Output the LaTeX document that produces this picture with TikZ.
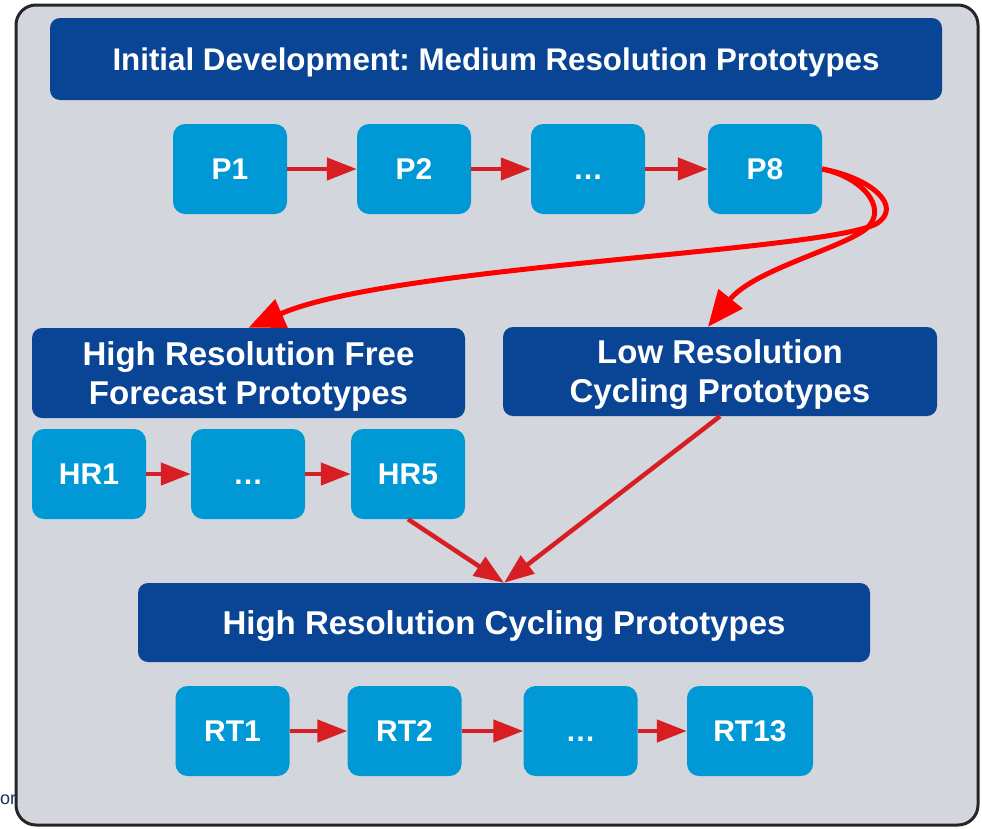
\documentclass[tikz,border=0pt]{standalone}
\usepackage{fontspec}
\setmainfont{Liberation Sans}
\usepackage{tikz}
\usetikzlibrary{arrows.meta}
\frenchspacing
\definecolor{panel}{RGB}{211,214,221}
\definecolor{dkblue}{RGB}{10,69,149}
\definecolor{ltblue}{RGB}{0,153,214}
\definecolor{arrred}{RGB}{215,30,35}
\definecolor{navy}{RGB}{30,45,95}
\tikzstyle{header} = [rectangle, rounded corners=10pt, fill=dkblue, text=white,
                     font=\fontsize{33}{39}\selectfont\bfseries, align=center,
                     text depth=0pt, inner sep=0pt]
\tikzstyle{proto} = [rectangle, rounded corners=12pt, fill=ltblue, text=white,
                     font=\fontsize{30}{36}\selectfont\bfseries,
                     text height=21.6pt, text depth=0pt,
                     minimum width=114pt, minimum height=90pt, inner sep=0pt]
\tikzstyle{link} = [draw=arrred, line width=4.5pt,
                     -{Triangle[length=30pt,width=22pt]}]
\tikzstyle{curvelink} = [draw=red, line width=5pt,
                     -{Triangle[length=36pt,width=30pt]}]

\begin{document}
\begin{tikzpicture}[x=1pt,y=-1pt]
\useasboundingbox (0,0) rectangle (982,828);
% panel
\draw[line width=3pt, draw=black!85, fill=panel, rounded corners=20pt] (16,5) rectangle (978,825);
\node[anchor=west, text=navy, font=\fontsize{18}{22}\selectfont, inner sep=0pt] at (0,800) (orfrag) {or};

% initial development
\node[header, font=\fontsize{31.3}{37}\selectfont\bfseries, minimum width=892pt, minimum height=82pt] at (496,59) (init) {Initial Development: Medium Resolution Prototypes};
\node[proto] at (230,169) (p1) {P1};
\node[proto] at (414,169) (p2) {P2};
\node[proto] at (588,169) (pdots) {…};
\node[proto] at (765,169) (p8) {P8};
\draw[link] (p1) -- (p2);
\draw[link] (p2) -- (pdots);
\draw[link] (pdots) -- (p8);

% free forecast
\node[header, minimum width=433pt, minimum height=90pt] at (248.5,373) (hrhead) {High Resolution Free\\Forecast Prototypes};
\node[proto] at (89,474) (hr1) {HR1};
\node[proto] at (248,474) (hrdots) {…};
\node[proto] at (408,474) (hr5) {HR5};
\draw[link] (hr1) -- (hrdots);
\draw[link] (hrdots) -- (hr5);

% low resolution cycling
\node[header, minimum width=434pt, minimum height=89pt] at (720,371.5) (lrhead) {Low Resolution\\Cycling Prototypes};

% curves out of P8
\draw[curvelink] (p8.east) .. controls (872,178) and (904,207) .. (876,224)
            .. controls (820,252) and (390,266) .. (hrhead.north);
\draw[curvelink] (p8.east) .. controls (866,178) and (893,214) .. (860,233)
            .. controls (828,252) and (752,272) .. ([xshift=-12pt]lrhead.north);

% high resolution cycling
\node[header, minimum width=732pt, minimum height=79pt] at (504,622.5) (hrchead) {High Resolution Cycling Prototypes};
\draw[link] (hr5.south) -- (hrchead.north);
\draw[link] (lrhead.south) -- (hrchead.north);
\node[proto] at (232.5,731) (rt1) {RT1};
\node[proto] at (404.5,731) (rt2) {RT2};
\node[proto] at (580.5,731) (rtdots) {…};
\node[proto, minimum width=126pt] at (750,731) (rt13) {RT13};
\draw[link] (rt1) -- (rt2);
\draw[link] (rt2) -- (rtdots);
\draw[link] (rtdots) -- (rt13);
\end{tikzpicture}
\end{document}
